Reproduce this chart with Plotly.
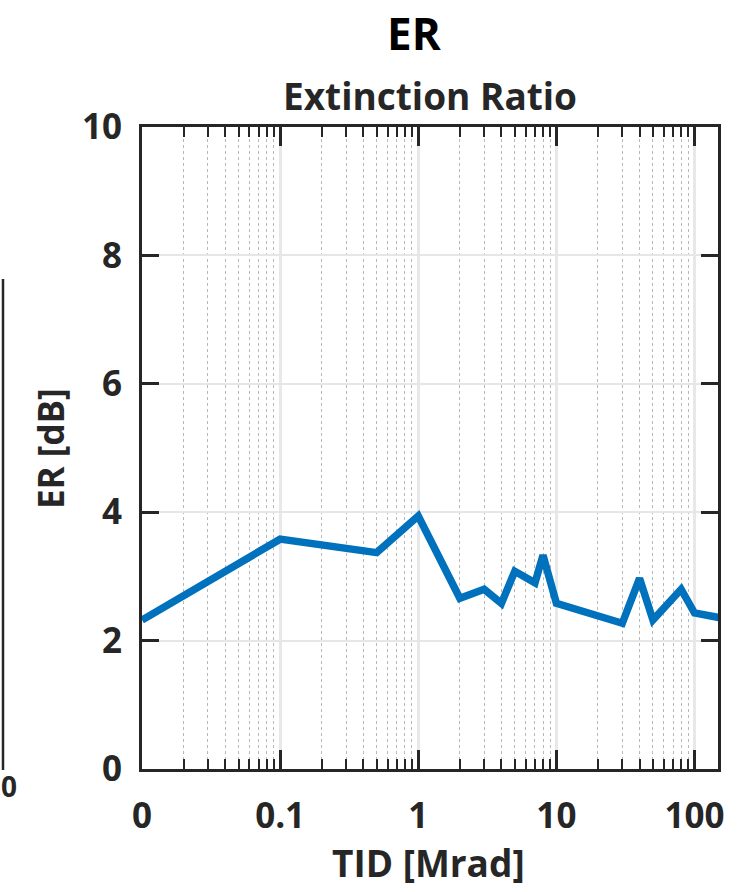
import plotly.graph_objects as go

# Data
tid_mrad = [0.01, 0.1, 0.5, 1, 2, 3, 4, 5, 7, 8, 10, 30, 40, 50, 80, 100, 150]
er_db = [2.32, 3.58, 3.37, 3.94, 2.66, 2.80, 2.58, 3.08, 2.90, 3.33, 2.58, 2.27, 2.97, 2.32, 2.80, 2.43, 2.36]

x_tickvals = [0.01, 0.1, 1, 10, 100]
x_ticktext = ["0", "0.1", "1", "10", "100"]
x_decades = [0.01, 0.1, 1, 10]
x_minor_mult = [2, 3, 4, 5, 6, 7, 8, 9]
y_tickvals = [0, 2, 4, 6, 8, 10]

x_minorvals = [d * m for d in x_decades for m in x_minor_mult]

FONT = "Open Sans"
W, H = 756, 892
L, R, T, B = 142, 38, 127, 123
pw, ph = W - L - R, H - T - B


def px(xp):
    return (xp - L) / pw


def py(yp):
    return (H - B - yp) / ph


fig = go.Figure()
fig.add_trace(go.Scatter(
    x=tid_mrad, y=er_db, mode="lines",
    line=dict(color="#0072BD", width=7.5),
    showlegend=False, cliponaxis=True,
))

axis_common = dict(
    showline=True, linewidth=3, linecolor="#262626", mirror="ticks",
    ticks="inside", tickcolor="#262626", tickwidth=3,
    tickfont=dict(family=FONT, size=35, color="#262626", weight="bold"),
    zeroline=False,
)

fig.update_xaxes(
    type="log", range=[-2, 2.17],
    tickvals=x_tickvals, ticktext=x_ticktext, ticklen=19,
    showgrid=True, gridcolor="#e8e8e8", gridwidth=3,
    minor=dict(tickvals=x_minorvals, ticks="inside", ticklen=10, tickwidth=2, tickcolor="#262626",
               showgrid=True, gridcolor="#b8b8b8", griddash="dot", gridwidth=1),
    ticklabelstandoff=14,
    **axis_common,
)
fig.update_yaxes(
    range=[0, 10], tickvals=y_tickvals, ticklen=17,
    showgrid=True, gridcolor="#e6e6e6", gridwidth=2,
    ticklabelstandoff=10,
    **axis_common,
)

annotations = [
    dict(text="<b>ER</b>", x=px(414), y=py(33), font=dict(family=FONT, size=44, color="black")),
    dict(text="<b>Extinction Ratio</b>", x=px(430), y=py(95), font=dict(family=FONT, size=37, color="#262626")),
    dict(text="<b>TID [Mrad]</b>", x=px(428), y=py(863), font=dict(family=FONT, size=37, color="#262626")),
    dict(text="<b>ER [dB]</b>", x=px(51), y=py(449), textangle=-90, font=dict(family=FONT, size=35, color="#262626")),
    dict(text="<b>0</b>", x=px(9), y=py(786), font=dict(family=FONT, size=28, color="#262626")),
]
for a in annotations:
    a.update(xref="paper", yref="paper", showarrow=False, xanchor="center", yanchor="middle")

fig.update_layout(
    width=W, height=H,
    margin=dict(l=L, r=R, t=T, b=B),
    paper_bgcolor="white", plot_bgcolor="white",
    annotations=annotations,
    shapes=[dict(type="line", xref="paper", yref="paper",
                 x0=px(3), x1=px(3), y0=py(279), y1=py(770),
                 line=dict(color="#262626", width=2.5))],
)

fig.write_html("out.html")
